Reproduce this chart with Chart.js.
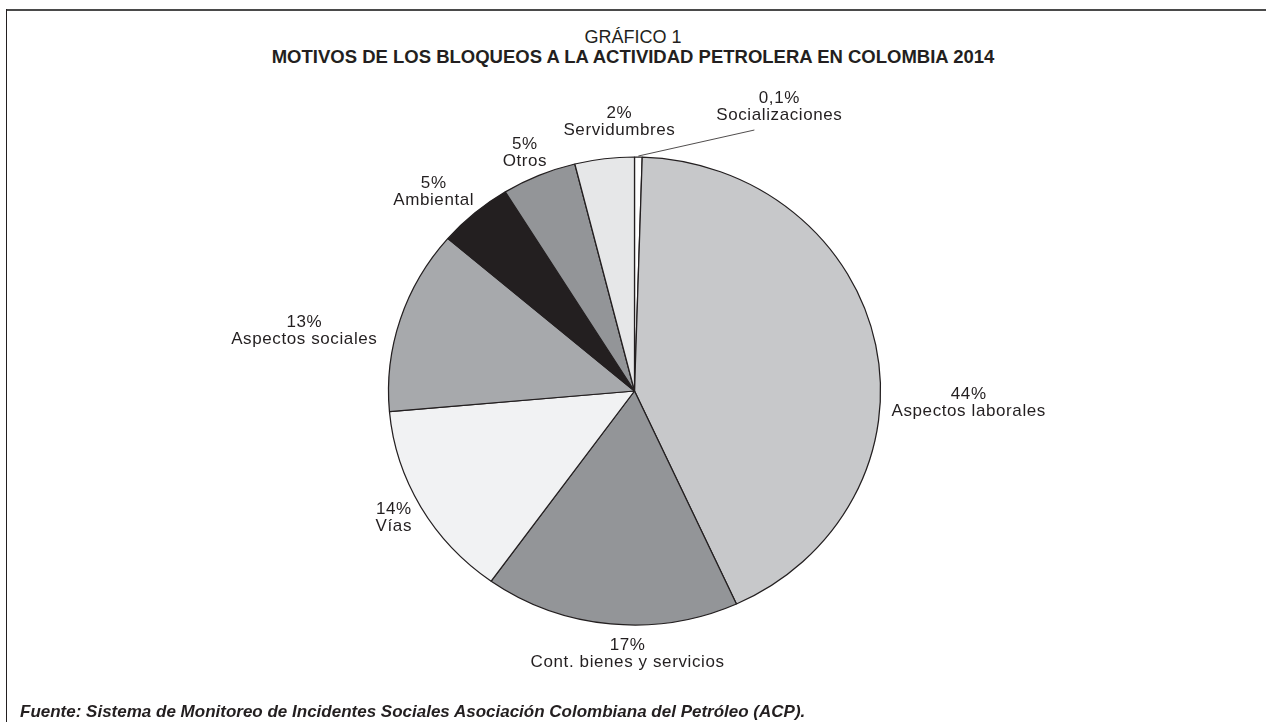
<!DOCTYPE html>
<html>
<head>
<meta charset="utf-8">
<title>Motivos de los bloqueos a la actividad petrolera en Colombia 2014</title>
<script src="https://cdn.jsdelivr.net/npm/chart.js@4"></script>
<style>
  html, body { margin: 0; padding: 0; background: #fff; }
  #wrap { position: relative; width: 1266px; height: 722px; overflow: hidden; }
  #frame-top  { position: absolute; left: 6px; top: 9px; width: 1260px; height: 2px; background: #4a4a4a; }
  #frame-left { position: absolute; left: 6px; top: 9px; width: 1px; height: 713px; background: #231f20; }
  .txt { position: absolute; left: 0; width: 1266px; text-align: center; color: #231f20;
         font-family: "Liberation Sans", Arial, sans-serif; line-height: 1; white-space: nowrap; }
  #kicker { top: 28px; font-size: 18px; }
  #title  { top: 48px; font-size: 18.5px; font-weight: bold; }
  #source { top: 703px; left: 20px; width: auto; text-align: left; font-size: 17px;
            font-weight: bold; font-style: italic; }
  #pie { position: absolute; left: 0; top: 0; }
</style>
</head>
<body>
<div id="wrap">
  <div id="frame-top"></div>
  <div id="frame-left"></div>
  <div class="txt" id="kicker">GRÁFICO 1</div>
  <div class="txt" id="title">MOTIVOS DE LOS BLOQUEOS A LA ACTIVIDAD PETROLERA EN COLOMBIA 2014</div>
  <canvas id="pie" width="1266" height="722"></canvas>
  <div class="txt" id="source">Fuente: Sistema de Monitoreo de Incidentes Sociales Asociación Colombiana del Petróleo (ACP).</div>
</div>

<script>
'use strict';

// ─────────────────────────────────────────────
// DATA
// ─────────────────────────────────────────────

const categories = ['Socializaciones', 'Aspectos laborales', 'Cont. bienes y servicios', 'Vías',
                    'Aspectos sociales', 'Ambiental', 'Otros', 'Servidumbres'];
// slice sizes as drawn in the source picture (%)
const shares     = [0.5, 42.7, 16.7, 13.7, 12.7, 4.9, 4.9, 3.9];
// percentages printed next to each slice
const pctLabels  = ['0,1%', '44%', '17%', '14%', '13%', '5%', '5%', '2%'];

// ─────────────────────────────────────────────
// STYLE
// ─────────────────────────────────────────────

const sliceColors = ['#ffffff', '#c7c8ca', '#939598', '#f1f2f3', '#a7a9ac', '#231f20', '#939598', '#e6e7e8'];
const INK       = '#231f20';
const STRETCH_X = 1.0513;   // the original pie is a touch wider than tall
const RADIUS    = 234;
// label block centre, relative to the point on the rim at the slice's mid angle
const labelShift = [[141, -50], [93, 58], [17, 30], [-27, 11], [-96, 11], [-41, -21], [-14, -23], [15, -37]];
const LINE_GAP = 17;

// ─────────────────────────────────────────────
// PLUGINS
// ─────────────────────────────────────────────

const ellipsePlugin = {
  id: 'ellipse',
  beforeDatasetsDraw(chart) {
    const a = chart.getDatasetMeta(0).data[0];
    const ctx = chart.ctx;
    ctx.save();
    ctx.translate(a.x, a.y);
    ctx.scale(STRETCH_X, 1);
    ctx.translate(-a.x, -a.y);
  },
  afterDatasetsDraw(chart) {
    chart.ctx.restore();
  }
};

function rimPoint(arc) {
  const p   = arc.getProps(['x', 'y', 'startAngle', 'endAngle', 'outerRadius'], true);
  const mid = (p.startAngle + p.endAngle) / 2;
  return {
    x: p.x + Math.cos(mid) * p.outerRadius * STRETCH_X,
    y: p.y + Math.sin(mid) * p.outerRadius,
  };
}

const labelPlugin = {
  id: 'sliceLabels',
  afterDraw(chart) {
    const ctx = chart.ctx;
    ctx.save();
    ctx.fillStyle = INK;
    ctx.strokeStyle = INK;
    ctx.font = '17px "Liberation Sans", Arial, sans-serif';
    ctx.letterSpacing = '0.6px';
    ctx.textAlign = 'center';
    ctx.textBaseline = 'middle';

    chart.getDatasetMeta(0).data.forEach((arc, i) => {
      const rim = rimPoint(arc);
      const [dx, dy] = labelShift[i];
      const cx = rim.x + dx;
      const cy = rim.y + dy;
      ctx.fillText(pctLabels[i], cx, cy - LINE_GAP / 2);
      ctx.fillText(categories[i], cx, cy + LINE_GAP / 2);

      // tiny slice gets a leader line
      if (i === 0) {
        ctx.lineWidth = 0.8;
        ctx.beginPath();
        ctx.moveTo(rim.x, rim.y - 1);
        ctx.lineTo(rim.x + 116, rim.y - 27);
        ctx.stroke();
      }
    });
    ctx.restore();
  }
};

// ─────────────────────────────────────────────
// CHART
// ─────────────────────────────────────────────

new Chart(document.getElementById('pie'), {
  type: 'pie',
  data: {
    labels: categories,
    datasets: [{
      data: shares,
      backgroundColor: sliceColors,
      borderColor: INK,
      borderWidth: 1.2,
    }]
  },
  options: {
    responsive: false,
    animation: false,
    radius: RADIUS,
    rotation: 0,
    layout: { padding: { top: 60, left: 3, right: 0, bottom: 0 } },
    events: [],
    plugins: {
      legend:  { display: false },
      tooltip: { enabled: false },
      title:   { display: false },
    }
  },
  plugins: [ellipsePlugin, labelPlugin]
});
</script>
</body>
</html>
